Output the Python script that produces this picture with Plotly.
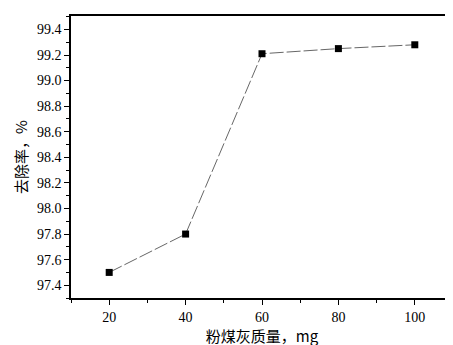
import plotly.graph_objects as go

mass_mg = [20, 40, 60, 80, 100]
removal_pct = [97.5, 97.8, 99.21, 99.25, 99.28]
x_ticks = [20, 40, 60, 80, 100]
y_ticks = [97.4, 97.6, 97.8, 98.0, 98.2, 98.4, 98.6, 98.8, 99.0, 99.2, 99.4]

serif = "Times New Roman"
cjk = "Noto Sans CJK SC"

fig = go.Figure()
fig.add_trace(go.Scatter(
    x=mass_mg, y=removal_pct, mode="lines+markers",
    line=dict(color="#555555", width=0.9, dash="14px,3px"),
    marker=dict(symbol="square", size=7, color="black"),
    showlegend=False,
))

fig.update_layout(
    width=453, height=345,
    margin=dict(l=63, r=6, t=6, b=55),
    paper_bgcolor="white", plot_bgcolor="white",
    font=dict(family=serif, color="black", size=14),
)
fig.update_xaxes(
    range=[10, 110], tickvals=x_ticks, ticktext=[str(v) for v in x_ticks],
    ticks="outside", ticklen=5, tickwidth=1, tickcolor="black",
    minor=dict(dtick=10, ticks="outside", ticklen=3, tickcolor="black", tick0=10),
    showline=True, linecolor="black", linewidth=1.5, mirror=True,
    showgrid=False, zeroline=False,
    tickfont=dict(family=serif, size=14),
    title=dict(text="粉煤灰质量，mg", font=dict(family=cjk, size=15), standoff=4),
)
fig.update_yaxes(
    range=[97.3, 99.505], tickvals=y_ticks, ticktext=[f"{v:.1f}" for v in y_ticks],
    ticks="outside", ticklen=5, tickwidth=1, tickcolor="black",
    minor=dict(dtick=0.1, tick0=97.3, ticks="outside", ticklen=3, tickcolor="black"),
    showline=True, linecolor="black", linewidth=1.5, mirror=True,
    showgrid=False, zeroline=False,
    tickfont=dict(family=serif, size=14),
    title=dict(text="去除率，%", font=dict(family=cjk, size=15), standoff=6),
)

fig.write_html("out.html")
